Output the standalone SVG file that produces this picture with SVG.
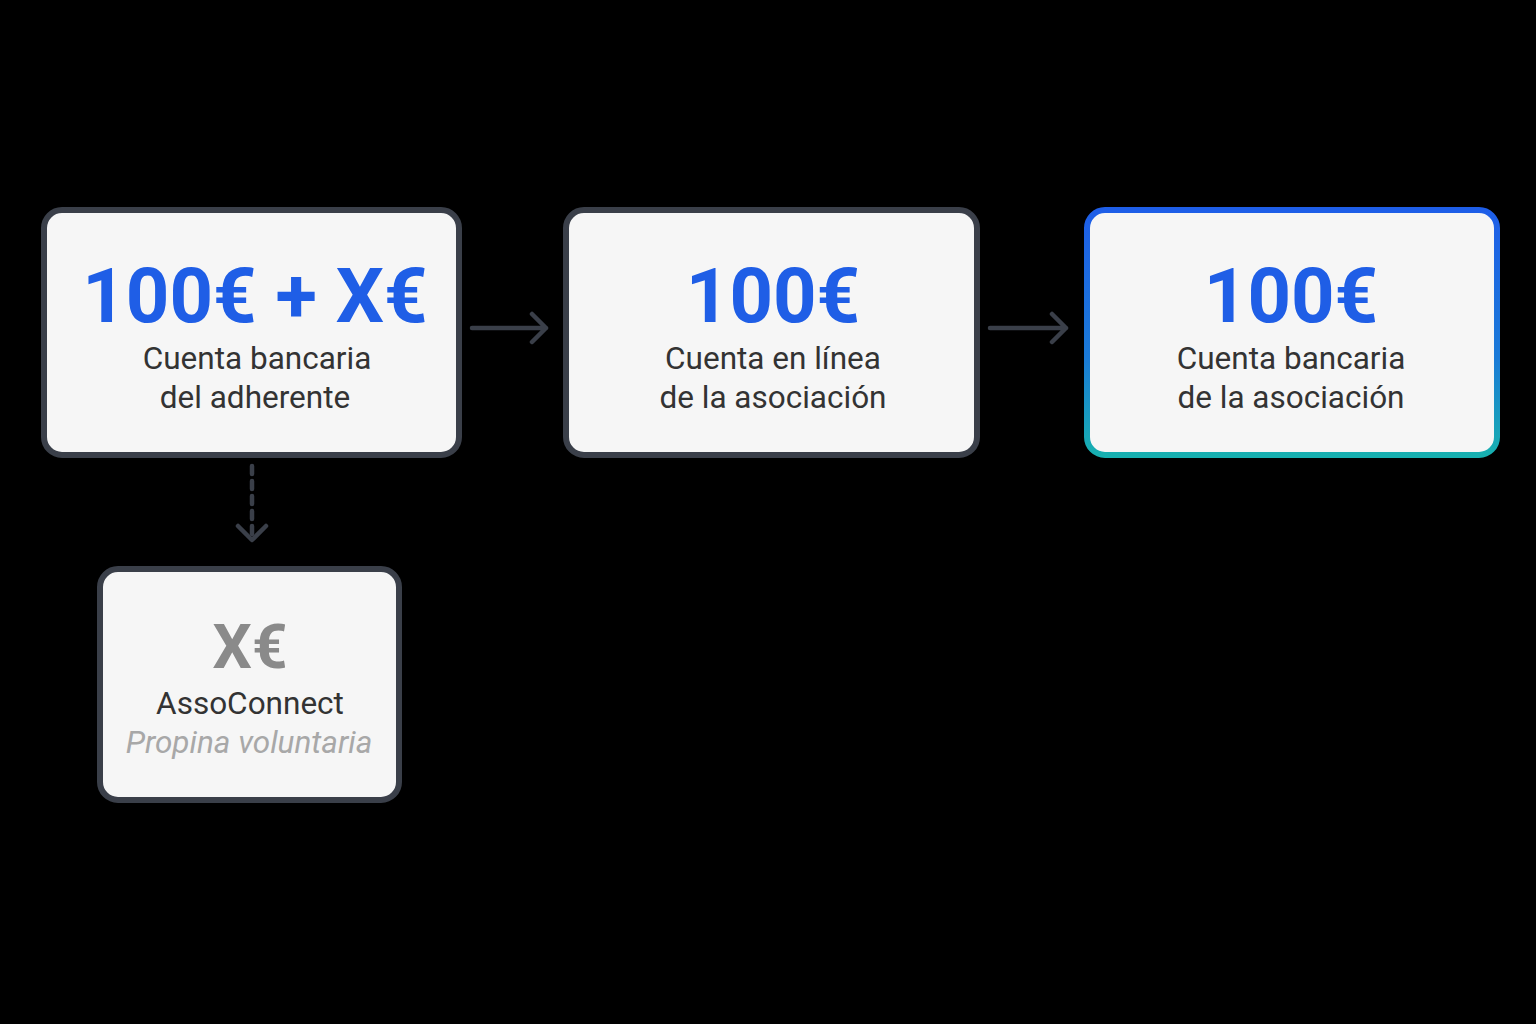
<svg xmlns="http://www.w3.org/2000/svg" width="1536" height="1024" viewBox="0 0 1536 1024">
<style>
.box{fill:#f6f6f6;stroke:#3a3f49;stroke-width:6}
.big{font-family:Roboto,"Liberation Sans",sans-serif;font-weight:bold;font-size:76px;fill:#1f5ee6;text-anchor:middle}
.sub{font-family:Roboto,"Liberation Sans",sans-serif;font-size:31.5px;fill:#333;text-anchor:middle}
.ln{stroke:#3a3f49;stroke-width:4.5;fill:none;stroke-linecap:round;stroke-linejoin:round}
</style>
<defs>
<linearGradient id="g" x1="0" y1="0" x2="0" y2="1">
<stop offset="0" stop-color="#1e5ee8"/><stop offset="0.6" stop-color="#1a7ad8"/><stop offset="1" stop-color="#17b0b0"/>
</linearGradient>
</defs>
<rect width="1536" height="1024" fill="#000"/>
<g id="connectors">
<path class="ln" d="M472 328H546M532 314L546 328L532 342"/>
<path class="ln" d="M990 328H1066M1052 314L1066 328L1052 342"/>
<path class="ln" d="M252 466V538" stroke-dasharray="8 7"/>
<path class="ln" d="M238 526L252 540L266 526"/>
</g>
<g id="n1">
<rect class="box" x="44" y="210" width="415" height="245" rx="18"/>
<text class="big" x="255" y="322">100€ + X€</text>
<text class="sub" x="257" y="369">Cuenta bancaria</text>
<text class="sub" x="255" y="408">del adherente</text>
</g>
<g id="n2">
<rect class="box" x="566" y="210" width="411" height="245" rx="18"/>
<text class="big" x="773" y="322">100€</text>
<text class="sub" x="773" y="369">Cuenta en línea</text>
<text class="sub" x="773" y="408">de la asociación</text>
</g>
<g id="n3">
<rect x="1087" y="210" width="410" height="245" rx="18" fill="#f6f6f6" stroke="url(#g)" stroke-width="6"/>
<text class="big" x="1291" y="322">100€</text>
<text class="sub" x="1291" y="369">Cuenta bancaria</text>
<text class="sub" x="1291" y="408">de la asociación</text>
</g>
<g id="n4">
<rect class="box" x="100" y="569" width="299" height="231" rx="18"/>
<text class="big" x="250" y="668" style="fill:#8a8a8a;font-size:62px">X€</text>
<text class="sub" x="250" y="714">AssoConnect</text>
<text class="sub" x="249" y="753" style="fill:#a8a8a8;font-style:italic">Propina voluntaria</text>
</g>
</svg>
